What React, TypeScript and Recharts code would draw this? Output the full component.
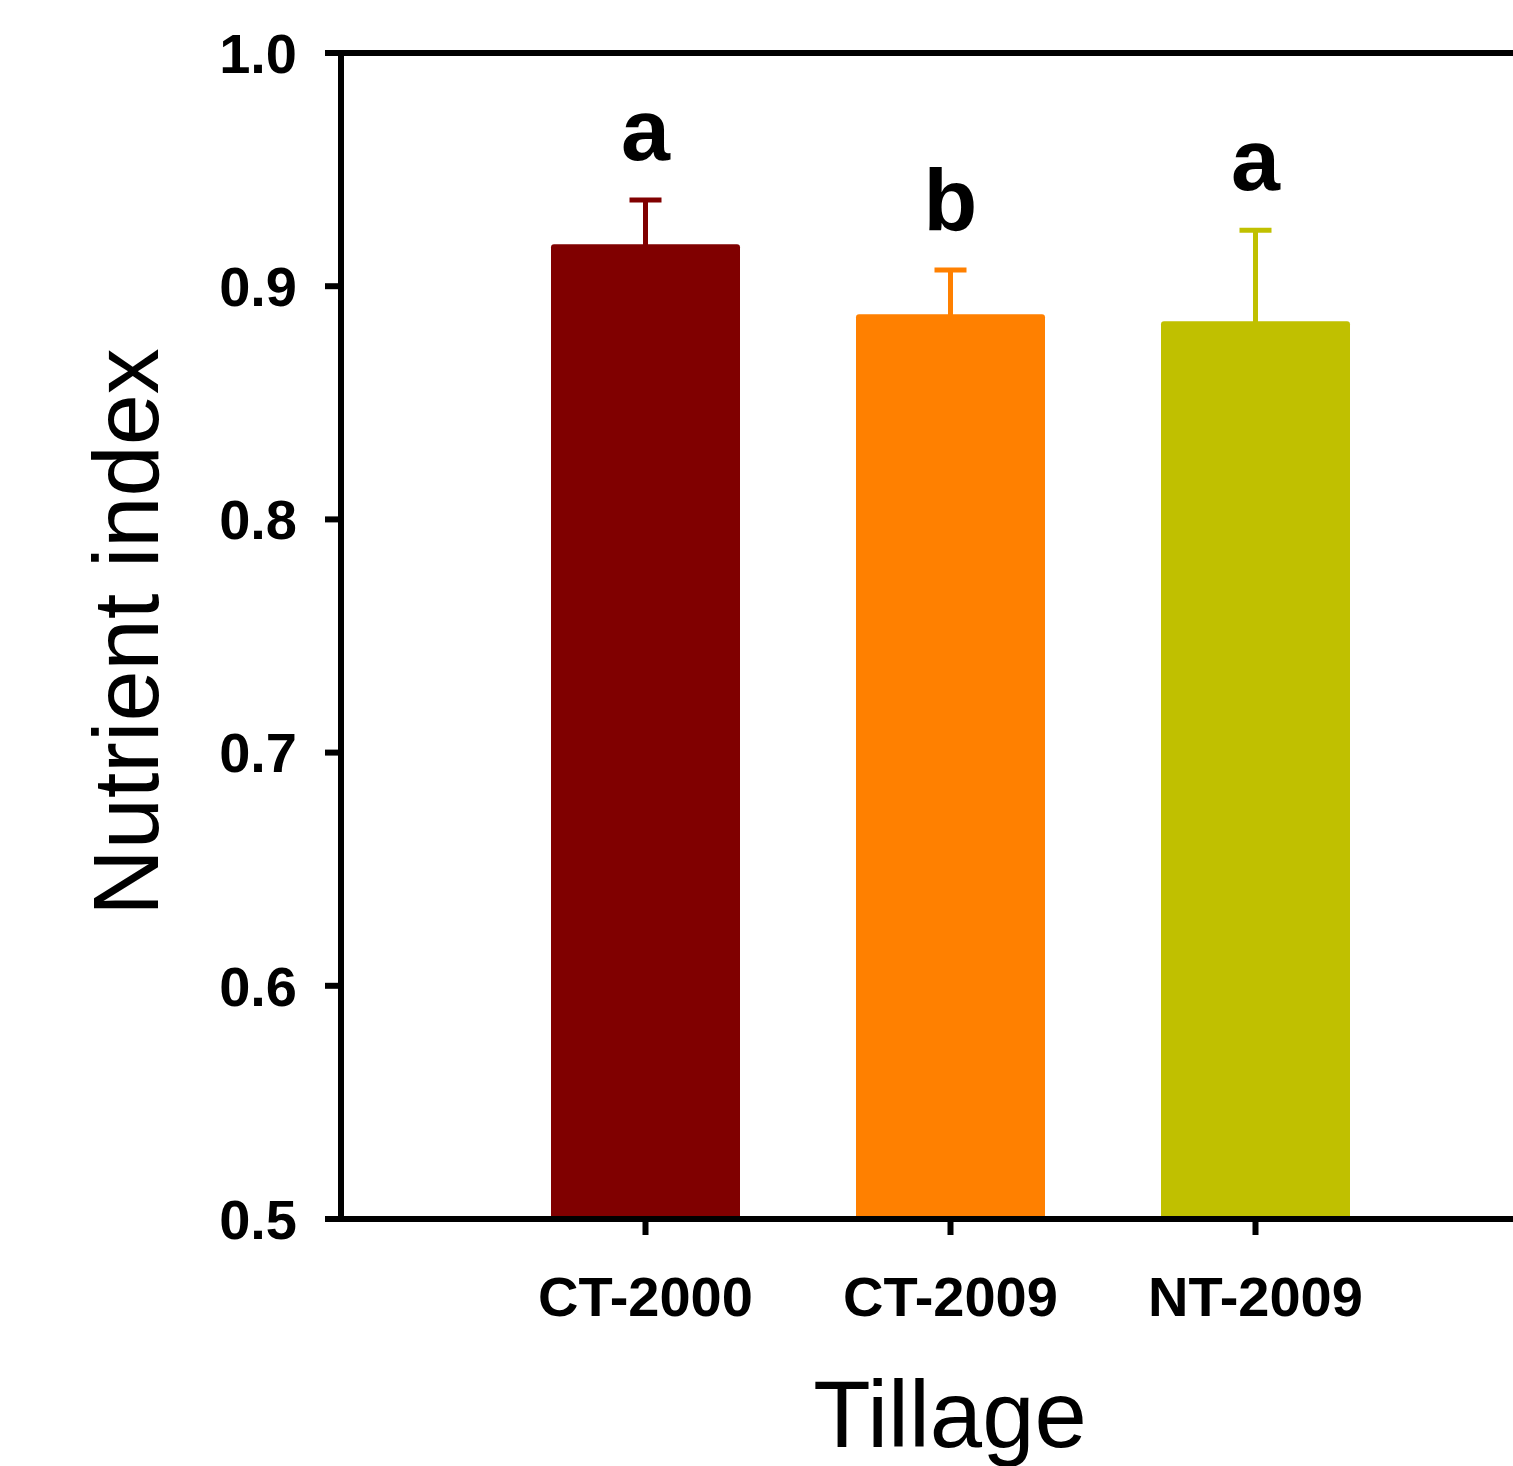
import React from 'react';
import {
  ComposedChart,
  Bar,
  Line,
  XAxis,
  YAxis,
  ErrorBar,
  Cell,
  LabelList,
  ReferenceLine,
  Label,
} from 'recharts';

const categories = ['CT-2000', 'CT-2009', 'NT-2009'];
const means = [0.918, 0.888, 0.885];
const errors = [0.019, 0.019, 0.039];
const letters = ['a', 'b', 'a'];
const colors = ['#800000', '#FF8000', '#C0C000'];
const yTicks = [0.5, 0.6, 0.7, 0.8, 0.9, 1.0];

const data = categories.map((name, i) => {
  const row: any = { name, mean: means[i], letterY: means[i] + errors[i], letter: letters[i] };
  categories.forEach((_, k) => {
    row['err' + k] = k === i ? errors[i] : undefined;
  });
  return row;
});

const FONT = '"Liberation Sans", Arial, Helvetica, sans-serif';

const YTitle = (props: any) => {
  const vb = props.viewBox || {};
  const cx = 126;
  const cy = vb.y + vb.height / 2 - 4;
  return (
    <text
      x={cx}
      y={cy}
      transform={`rotate(-90, ${cx}, ${cy})`}
      textAnchor="middle"
      dominantBaseline="central"
      fontFamily={FONT}
      fontSize={92}
      fill="#000"
    >
      Nutrient index
    </text>
  );
};

const XTitle = () => (
  <text x={950} y={1447} textAnchor="middle" fontFamily={FONT} fontSize={94} fill="#000">
    Tillage
  </text>
);

export default function App() {
  return (
    <div style={{ position: 'absolute', left: 0, top: 0, background: '#fff' }}>
      <ComposedChart
        width={1513}
        height={1466}
        data={data}
        margin={{ top: 53, right: 0, bottom: 0, left: 0 }}
      >
        <XAxis
          dataKey="name"
          type="category"
          height={247}
          padding={{ left: 152, right: 105 }}
          axisLine={{ stroke: '#000', strokeWidth: 6 }}
          tickLine={{ stroke: '#000', strokeWidth: 6 }}
          tickSize={16}
          tickMargin={41}
          tick={{ fontSize: 56, fontWeight: 'bold', fill: '#000', fontFamily: FONT }}
        >
          <Label content={<XTitle />} />
        </XAxis>
        <YAxis
          type="number"
          domain={[0.5, 1]}
          ticks={yTicks}
          allowDataOverflow
          width={341}
          axisLine={{ stroke: '#000', strokeWidth: 6 }}
          tickLine={{ stroke: '#000', strokeWidth: 6 }}
          tickSize={16}
          tickMargin={28}
          tickFormatter={(v: number) => v.toFixed(1)}
          tick={{ fontSize: 56, fontWeight: 'bold', fill: '#000', fontFamily: FONT }}
        >
          <Label content={<YTitle />} />
        </YAxis>
        <ReferenceLine y={1} stroke="#000" strokeWidth={6} />
        <Bar dataKey="mean" barSize={189} radius={[3, 3, 0, 0]} isAnimationActive={false}>
          {data.map((_, i) => (
            <Cell key={i} fill={colors[i]} />
          ))}
          {categories.map((_, k) => (
            <ErrorBar
              key={k}
              dataKey={'err' + k}
              direction="y"
              width={16}
              stroke={colors[k]}
              strokeWidth={5}
              isAnimationActive={false}
            />
          ))}
        </Bar>
        <Line
          dataKey="letterY"
          stroke="none"
          dot={false}
          activeDot={false}
          isAnimationActive={false}
        >
          <LabelList
            dataKey="letter"
            position="top"
            offset={40}
            fontSize={88}
            fontWeight="bold"
            fill="#000"
            fontFamily={FONT}
          />
        </Line>
      </ComposedChart>
    </div>
  );
}
